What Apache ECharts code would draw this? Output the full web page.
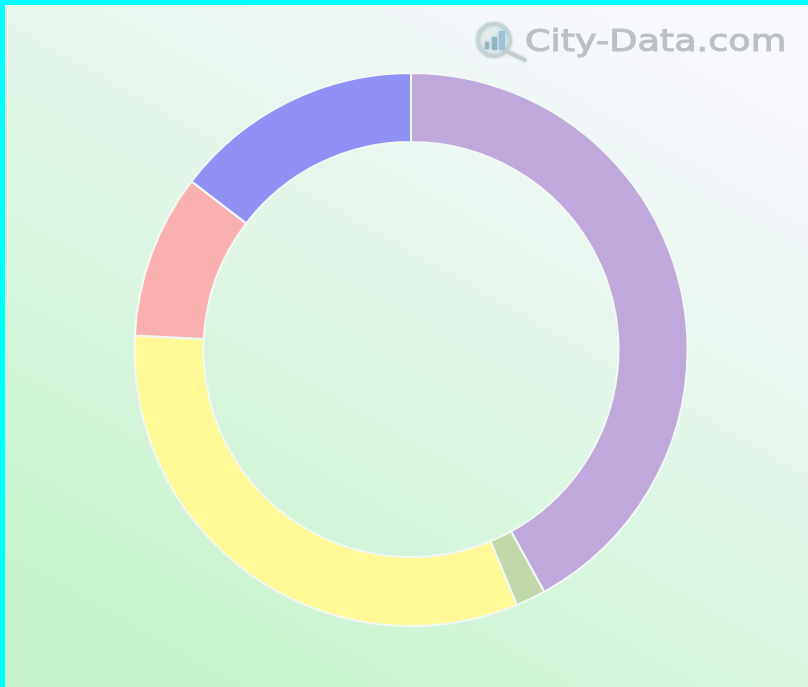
<!DOCTYPE html>
<html>
<head>
<meta charset="utf-8">
<style>
  html, body { margin: 0; padding: 0; background: #00ffff; overflow: hidden; }
  #chart { position: absolute; left: 5px; top: 5px; width: 803px; height: 682px; }
</style>
<script src="https://cdn.jsdelivr.net/npm/echarts@6/dist/echarts.min.js"></script>
</head>
<body>
<div id="chart"></div>
<script>
// share of each slice, clockwise from 12 o'clock
const categories = ['Purple', 'Green', 'Yellow', 'Pink', 'Blue'];
const shares = [42.0, 1.75, 32.05, 9.6, 14.6];
const sliceColors = ['#bfa8db', '#c3d8a8', '#fff998', '#fab0b0', '#9191f5'];

const chart = echarts.init(document.getElementById('chart'), null, { renderer: 'canvas' });

const seriesData = categories.map(function (name, i) {
  return { name: name, value: shares[i], itemStyle: { color: sliceColors[i] } };
});

chart.setOption({
  animation: false,
  backgroundColor: new echarts.graphic.LinearGradient(0.27, 1, 0.75, 0, [
    { offset: 0, color: '#c6f3cc' },
    { offset: 1, color: '#f8f8ff' }
  ]),
  tooltip: { show: false },
  legend: { show: false },
  series: [
    {
      type: 'pie',
      center: [406, 344.5],
      radius: [207.5, 276.5],
      startAngle: 90,
      clockwise: true,
      label: { show: false },
      labelLine: { show: false },
      itemStyle: { borderColor: '#f2f8f4', borderWidth: 2 },
      data: seriesData
    }
  ],
  // City-Data.com watermark
  graphic: [
    {
      type: 'text',
      x: 520,
      y: 22,
      scaleX: 1.18,
      style: {
        text: 'City-Data.com',
        font: '31px "DejaVu Sans"',
        fill: '#bcc0c3',
        stroke: '#bcc0c3',
        lineWidth: 1,
        shadowColor: '#bcc0c3',
        shadowBlur: 3
      }
    },
    {
      type: 'circle',
      shape: { cx: 489, cy: 35, r: 16 },
      style: { fill: 'rgba(235,242,242,0.6)', stroke: '#c3d2d2', lineWidth: 4, shadowColor: '#c3d2d2', shadowBlur: 3 }
    },
    {
      type: 'line',
      shape: { x1: 503, y1: 47, x2: 520, y2: 55 },
      style: { stroke: '#c3cccc', lineWidth: 4, lineCap: 'round', shadowColor: '#c3cccc', shadowBlur: 3 }
    },
    { type: 'rect', shape: { x: 480, y: 37, width: 4, height: 7 }, style: { fill: '#8fb5c2', shadowColor: '#8fb5c2', shadowBlur: 3 } },
    { type: 'rect', shape: { x: 487, y: 32, width: 5, height: 13 }, style: { fill: '#8fb5c2', shadowColor: '#8fb5c2', shadowBlur: 3 } },
    { type: 'rect', shape: { x: 494, y: 26, width: 6, height: 19 }, style: { fill: '#9cc3da', shadowColor: '#9cc3da', shadowBlur: 3 } }
  ]
});
</script>
</body>
</html>
